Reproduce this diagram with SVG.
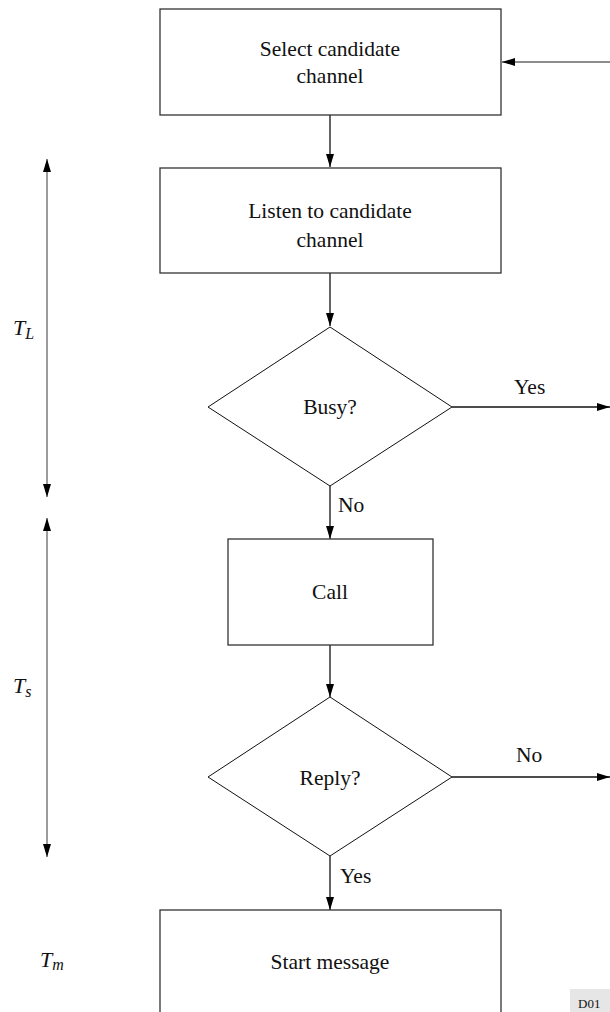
<svg xmlns="http://www.w3.org/2000/svg" width="610" height="1012" viewBox="0 0 610 1012">
<style>
.box{fill:#fff;stroke:#333;stroke-width:1.3}
.dia{fill:#fff;stroke:#111;stroke-width:1}
.t{font-family:"Liberation Serif","Times New Roman",serif;font-size:21.5px;fill:#111;text-anchor:middle}
.lab{font-family:"Liberation Serif","Times New Roman",serif;font-size:21.5px;fill:#111}
.it{font-family:"Liberation Serif","Times New Roman",serif;font-style:italic;fill:#111}
.c{stroke:#111;stroke-width:1.3;fill:none}
.g{stroke:#666;stroke-width:1.3;fill:none}
</style>
<defs>
<marker id="ah" viewBox="0 0 13 8" refX="13" refY="4" markerWidth="13" markerHeight="8" markerUnits="userSpaceOnUse" orient="auto-start-reverse">
<path d="M0,0 L13,4 L0,8 Z" fill="#000"/>
</marker>
</defs>
<g id="connectors">
<line class="g" x1="610" y1="62" x2="502" y2="62" marker-end="url(#ah)"/>
<line class="c" x1="330" y1="115" x2="330" y2="167" marker-end="url(#ah)"/>
<line class="c" x1="330" y1="273" x2="330" y2="326" marker-end="url(#ah)"/>
<line class="c" x1="452" y1="407" x2="610" y2="407" marker-end="url(#ah)"/>
<line class="c" x1="330" y1="486" x2="330" y2="539" marker-end="url(#ah)"/>
<line class="c" x1="330" y1="645" x2="330" y2="697" marker-end="url(#ah)"/>
<line class="c" x1="452" y1="777" x2="610" y2="777" marker-end="url(#ah)"/>
<line class="c" x1="330" y1="856" x2="330" y2="910" marker-end="url(#ah)"/>
<text class="lab" x="514" y="394">Yes</text>
<text class="lab" x="338" y="512">No</text>
<text class="lab" x="516" y="762">No</text>
<text class="lab" x="340" y="883">Yes</text>
</g>
<g id="dim-TL">
<line class="g" x1="47" y1="159" x2="47" y2="497" marker-start="url(#ah)" marker-end="url(#ah)"/>
<text class="it" x="13" y="335" font-size="22">T<tspan font-size="16" dy="4">L</tspan></text>
</g>
<g id="dim-Ts">
<line class="g" x1="47" y1="518" x2="47" y2="857" marker-start="url(#ah)" marker-end="url(#ah)"/>
<text class="it" x="13" y="693" font-size="22">T<tspan font-size="16" dy="4">s</tspan></text>
</g>
<g id="label-Tm">
<text class="it" x="40" y="967" font-size="22">T<tspan font-size="16" dy="3">m</tspan></text>
</g>
<g id="select">
<rect class="box" x="160" y="9" width="341" height="106"/>
<text class="t" x="330" y="56">Select candidate</text>
<text class="t" x="330" y="83">channel</text>
</g>
<g id="listen">
<rect class="box" x="160" y="168" width="341" height="105"/>
<text class="t" x="330" y="218">Listen to candidate</text>
<text class="t" x="330" y="247">channel</text>
</g>
<g id="busy">
<polygon class="dia" points="330,327 452,407 330,486 208,407"/>
<text class="t" x="330" y="414">Busy?</text>
</g>
<g id="call">
<rect class="box" x="228" y="539" width="205" height="106"/>
<text class="t" x="330" y="599">Call</text>
</g>
<g id="reply">
<polygon class="dia" points="330,697 452,777 330,856 208,777"/>
<text class="t" x="330" y="785">Reply?</text>
</g>
<g id="start">
<rect class="box" x="160" y="910" width="341" height="120"/>
<text class="t" x="330" y="969">Start message</text>
</g>
<g id="tag">
<rect x="570" y="989" width="40" height="23" fill="#e6e6e6"/>
<text x="578" y="1008" font-family="Liberation Serif, serif" font-size="13" fill="#111">D01</text>
</g>
</svg>
